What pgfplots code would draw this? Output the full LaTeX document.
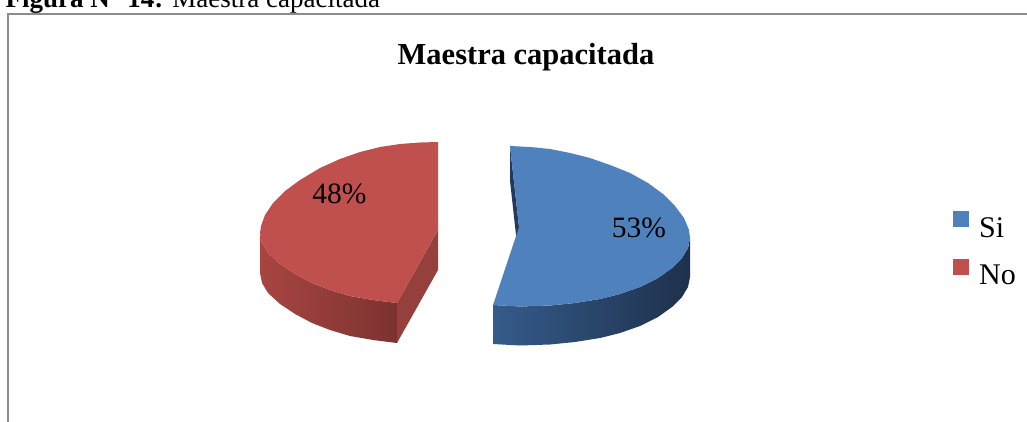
\documentclass[border=0pt]{standalone}
\usepackage{fontspec}
\setmainfont{Liberation Serif}
\usepackage{pgfplots}
\pgfplotsset{compat=1.18}
\definecolor{redtop}{HTML}{C0504D}
\definecolor{bluetop}{HTML}{4F81BD}
\definecolor{redsideL}{HTML}{A84542}
\definecolor{redsideR}{HTML}{7C3230}
\definecolor{redcut}{HTML}{96403D}
\definecolor{bluesideL}{HTML}{355B8A}
\definecolor{bluesideR}{HTML}{1E314C}
\definecolor{bluecut}{HTML}{22395A}
\definecolor{framegray}{HTML}{8C8C8C}
\begin{document}
\begin{tikzpicture}
\begin{axis}[
  width=1027pt, height=422pt, scale only axis,
  xmin=0, xmax=1027, ymin=0, ymax=422, y dir=reverse,
  hide axis, clip=false,
  legend style={at={(axis cs:953,211)}, anchor=north west, draw=none, fill=none,
    font=\fontsize{30}{30}\selectfont, row sep=18pt, inner sep=0pt,
    cells={anchor=west},
    /tikz/every odd column/.append style={column sep=8pt}},
  legend image code/.code={\fill[#1] (0pt,1pt) rectangle (16pt,17pt);},
]
% frame
\draw[color=framegray, line width=1.6pt] (axis cs:8,440) -- (axis cs:8,14) -- (axis cs:1040,14);

% ---- blue slice (Si) ----
\addplot[draw=none, fill=bluecut, forget plot] coordinates {
(510,146) (519,227) (519,262) (510,181)} -- cycle;
\addplot[draw=none, left color=bluesideL, right color=bluesideR, forget plot] coordinates {
(493,305) (520,306.5) (550,305.5) (575,303) (600,299) (620,294) (640,287) (658,278) (672,268) (682,258) (688,248) (690,238)
(690,277) (688,287) (682,297) (672,307) (658,317) (640,326) (620,333) (600,338) (575,342) (550,344.5) (520,345.5) (493,344)} -- cycle;
\addplot[draw=none, fill=bluetop] coordinates {
(519,227) (510,146) (530,147) (550,149) (570,153) (590,158) (610,165) (630,173) (648,183) (663,194) (675,206) (684,218) (689,230) (690,238)
(688,248) (682,258) (672,268) (658,278) (640,287) (620,294) (600,299) (575,303) (550,305.5) (520,306.5) (493,305)} -- cycle;
\addlegendentry{Si}

% ---- red slice (No) ----
\addplot[draw=none, left color=redsideL, right color=redsideR, forget plot] coordinates {
(260,233) (262,243) (268,253) (280,264) (295,274) (312,283) (330,290) (350,296) (373,300) (397,303)
(397,343) (373,340) (350,336) (330,330) (312,323) (295,314) (280,304) (268,293) (262,283) (260,273)} -- cycle;
\addplot[draw=none, fill=redcut, forget plot] coordinates {
(438,230) (397,303) (397,343) (438,270)} -- cycle;
\addplot[draw=none, fill=redtop] coordinates {
(438,230) (438,142) (420,142.5) (400,144) (380,147) (360,152) (340,159) (320,168) (300,180) (285,191) (273,203) (265,215) (261,226) (260,233)
(262,243) (268,253) (280,264) (295,274) (312,283) (330,290) (350,296) (373,300) (397,303)} -- cycle;
\addlegendentry{No}

% labels
\node[font=\fontsize{29.5}{30}\selectfont, anchor=base] at (axis cs:339.5,203) {48\%};
\node[font=\fontsize{29.5}{30}\selectfont, anchor=base] at (axis cs:639,237) {53\%};
\node[font=\bfseries\fontsize{30.5}{31}\selectfont, anchor=base] at (axis cs:526,65) {Maestra capacitada};
\node[font=\fontsize{27}{27}\selectfont, anchor=base west, inner sep=0pt] at (axis cs:5.5,8) {\textbf{Figura N° 14:} Maestra capacitada};
\end{axis}
\pgfresetboundingbox
\path[use as bounding box] (current axis.south west) rectangle (current axis.north east);
\end{tikzpicture}
\end{document}
